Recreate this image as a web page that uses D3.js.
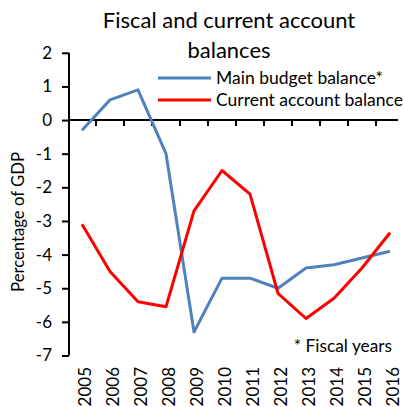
<!DOCTYPE html>
<html>
<head>
<meta charset="utf-8">
<script src="https://cdn.jsdelivr.net/npm/d3@7/dist/d3.min.js"></script>
<style>
  html, body { margin: 0; padding: 0; background: #fff; }
  svg { display: block; font-family: Lato, "Open Sans", sans-serif; }
</style>
</head>
<body>
<svg id="chart" width="404" height="407"></svg>
<script>
const years = ["2005","2006","2007","2008","2009","2010","2011","2012","2013","2014","2015","2016"];
const budgetBalance = [-0.3, 0.6, 0.9, -1.0, -6.3, -4.7, -4.7, -5.0, -4.4, -4.3, -4.1, -3.9];
const currentAccount = [-3.1, -4.5, -5.4, -5.55, -2.7, -1.5, -2.2, -5.15, -5.9, -5.3, -4.4, -3.35];
const yTicks = [2, 1, 0, -1, -2, -3, -4, -5, -6, -7];
const seriesNames = ["Main budget balance*", "Current account balance"];
const seriesColors = ["#4F81BD", "#FF0000"];

const svg = d3.select("#chart");
const plotLeft = 69, plotRight = 405, plotTop = 52.8, plotBottom = 355.5;

const x = d3.scaleBand().domain(years).range([plotLeft - 1, plotRight - 1]).paddingInner(0).paddingOuter(0);
const y = d3.scaleLinear().domain([-7, 2]).range([plotBottom, plotTop]);

// Title
svg.append("text").attr("x", 229).attr("y", 28).attr("text-anchor", "middle")
  .attr("font-size", 22).attr("fill", "#000").text("Fiscal and current account");
svg.append("text").attr("x", 229).attr("y", 58).attr("text-anchor", "middle")
  .attr("font-size", 22).attr("fill", "#000").text("balances");

// Y axis
const yAxis = svg.append("g").attr("transform", `translate(${plotLeft},0)`)
  .call(d3.axisLeft(y).tickValues(yTicks).tickSize(7).tickPadding(10).tickFormat(d3.format("d")));
yAxis.select(".domain").attr("stroke", "#000").attr("stroke-width", 2).attr("d", `M0,${plotTop}V${plotBottom}`);
yAxis.selectAll(".tick line").attr("stroke", "#000").attr("stroke-width", 2);
yAxis.selectAll(".tick text").attr("font-size", 17).attr("fill", "#000")
  .attr("font-family", "Lato, sans-serif").text(d => d < 0 ? "-" + Math.abs(d) : d);

// X axis along zero line with ticks at category boundaries
const xAxisG = svg.append("g").attr("transform", `translate(0,${y(0)})`);
xAxisG.append("line").attr("x1", plotLeft).attr("x2", 398).attr("stroke", "#000").attr("stroke-width", 2);
xAxisG.selectAll("line.tk").data(years.slice(1)).join("line").attr("class", "tk")
  .attr("x1", d => x(d)).attr("x2", d => x(d)).attr("y1", 0).attr("y2", 6)
  .attr("stroke", "#000").attr("stroke-width", 2);

// Year labels at the bottom, rotated
svg.append("g").selectAll("text").data(years).join("text")
  .attr("transform", d => `translate(${x(d) + x.bandwidth() / 2 + 8.5},367) rotate(-90)`)
  .attr("text-anchor", "end").attr("font-size", 17).attr("fill", "#000").text(d => d);

// Y axis title
svg.append("text").attr("transform", "translate(24,222) rotate(-90)").attr("text-anchor", "middle")
  .attr("font-size", 16.7).attr("fill", "#000").text("Percentage of GDP");

// Lines
const line = d3.line().x((d, i) => x(years[i]) + x.bandwidth() / 2).y(d => y(d));
[budgetBalance, currentAccount].forEach((s, k) => {
  svg.append("path").datum(s).attr("d", line).attr("fill", "none")
    .attr("stroke", seriesColors[k]).attr("stroke-width", 3).attr("stroke-linejoin", "round");
});

// Legend
seriesNames.forEach((n, k) => {
  const ly = 78 + k * 22;
  svg.append("line").attr("x1", 158).attr("x2", 211).attr("y1", ly).attr("y2", ly)
    .attr("stroke", seriesColors[k]).attr("stroke-width", 3);
  svg.append("text").attr("x", 216).attr("y", ly + 6).attr("font-size", 17.5).attr("fill", "#000").text(n);
});

// Footnote
svg.append("text").attr("x", 392).attr("y", 352).attr("text-anchor", "end")
  .attr("font-size", 17.3).attr("fill", "#000").text("* Fiscal years");
</script>
</body>
</html>
